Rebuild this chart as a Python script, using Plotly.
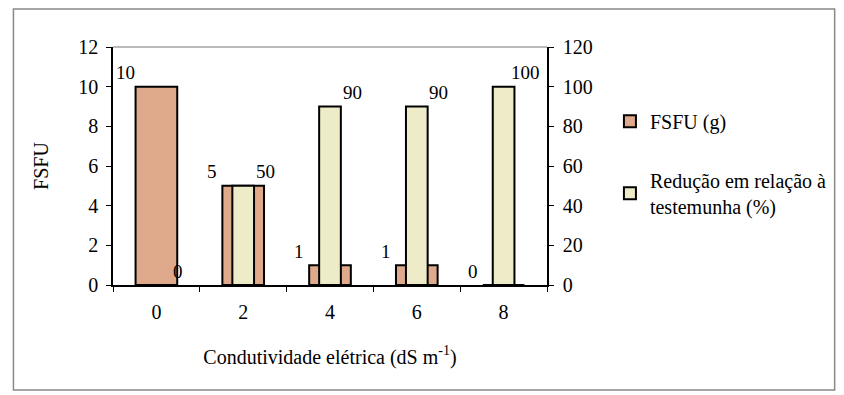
import plotly.graph_objects as go

categories = ["0", "2", "4", "6", "8"]
fsfu = [10, 5, 1, 1, 0]
reducao = [0, 50, 90, 90, 100]
fsfu_name = "FSFU (g)"
reducao_name = "Redução em relação à<br>testemunha (%)"
left_ticks = [0, 2, 4, 6, 8, 10, 12]
right_ticks = [0, 20, 40, 60, 80, 100, 120]

FONT = "Times New Roman"
FS = 20
C_FSFU = "#DFAA8B"
C_RED = "#EEEBC8"

fig = go.Figure()
fig.add_trace(go.Bar(
    x=categories, y=fsfu, name=fsfu_name, width=0.48,
    marker=dict(color=C_FSFU, line=dict(color="black", width=2)),
    legendgroup="a", yaxis="y",
))
fig.add_trace(go.Bar(
    x=categories, y=reducao, name=reducao_name, width=0.25,
    marker=dict(color=C_RED, line=dict(color="black", width=2)),
    legendgroup="b", yaxis="y2",
))

ann = []
for i, v in enumerate(fsfu):
    ann.append(dict(x=i, y=v, xref="x", yref="y", text=str(v), showarrow=False,
                    xshift=-31, yshift=14, font=dict(family=FONT, size=19, color="black")))
for i, v in enumerate(reducao):
    ann.append(dict(x=i, y=v, xref="x", yref="y2", text=str(v), showarrow=False,
                    xshift=22, yshift=14, font=dict(family=FONT, size=19, color="black")))

fig.update_layout(
    width=844, height=395,
    margin=dict(l=113, r=295, t=47, b=110),
    paper_bgcolor="white", plot_bgcolor="white",
    barmode="overlay",
    font=dict(family=FONT, size=FS, color="black"),
    showlegend=True,
    legend=dict(x=1.145, y=0.77, xanchor="left", yanchor="top",
                font=dict(family=FONT, size=FS), tracegroupgap=30,
                traceorder="grouped", bgcolor="rgba(0,0,0,0)"),
    xaxis=dict(type="category", range=[-0.5, 4.5], showline=True, linecolor="black",
               linewidth=1.5, ticks="outside", tickson="boundaries", ticklen=5,
               tickcolor="black", showgrid=False, tickfont=dict(size=FS),
               ticklabelstandoff=8,
               title=dict(text="Condutividade elétrica (dS m<sup>-1</sup>)",
                          font=dict(size=FS), standoff=28)),
    yaxis=dict(range=[0, 12], tickvals=left_ticks, showline=True, linecolor="black",
               linewidth=1.5, ticks="outside", ticklen=5, tickcolor="black",
               showgrid=False, zeroline=False, tickfont=dict(size=FS),
               ticklabelstandoff=4,
               title=dict(text="FSFU", font=dict(size=FS), standoff=24)),
    yaxis2=dict(range=[0, 120], tickvals=right_ticks, overlaying="y", side="right",
                showline=True, linecolor="black", linewidth=1.5, ticks="outside",
                ticklen=5, tickcolor="black", showgrid=False, zeroline=False,
                tickfont=dict(size=FS), ticklabelstandoff=5),
    annotations=ann,
    shapes=[
        dict(type="line", xref="paper", yref="paper", x0=0, x1=1, y0=1, y1=1,
             line=dict(color="#777777", width=1.2)),
        dict(type="rect", xref="paper", yref="paper", x0=-0.2294, x1=1.6628,
             y0=-0.4412, y1=1.1597, line=dict(color="#888888", width=1.5)),
    ],
)

fig.write_html("out.html")
